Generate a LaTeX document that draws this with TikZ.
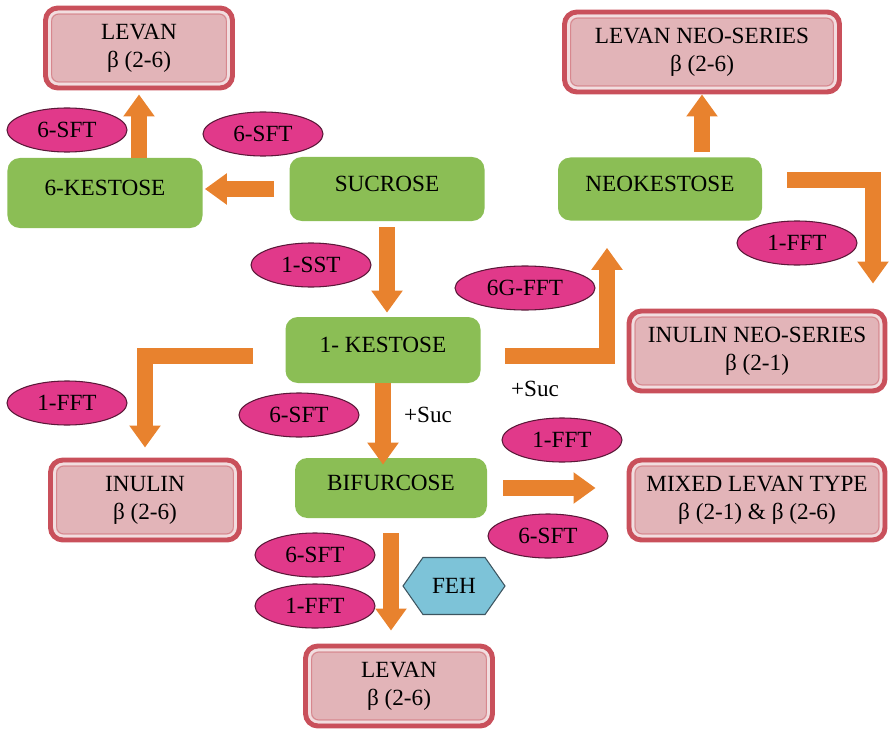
\documentclass[tikz,border=0pt]{standalone}
\usepackage{fontspec}
\setmainfont{Liberation Serif}
\usetikzlibrary{arrows.meta,positioning,shapes.geometric,shapes.symbols,calc}
\definecolor{Leaf}{HTML}{8BBE55}
\definecolor{Rose}{HTML}{E2B4B8}
\definecolor{Brick}{HTML}{C9505B}
\definecolor{Magenta}{HTML}{E1398A}
\definecolor{Plum}{HTML}{5A1838}
\definecolor{Sky}{HTML}{7DC3D8}
\definecolor{Slate}{HTML}{3D5560}
\definecolor{Tang}{HTML}{E8822E}
\tikzset{
 product/.style={draw=Brick,line width=2.8pt,fill=Rose,rounded corners=7pt,align=center,
   inner sep=3pt,minimum height=16mm,
   path picture={
     \draw[Rose!45!white,line width=1.6pt,rounded corners=5pt]
       ([shift={(2.2pt,-2.2pt)}]path picture bounding box.north west) rectangle
       ([shift={(-2.2pt,2.2pt)}]path picture bounding box.south east);
     \draw[Brick!45!Rose,line width=0.5pt,rounded corners=4pt]
       ([shift={(3.5pt,-3.5pt)}]path picture bounding box.north west) rectangle
       ([shift={(-3.5pt,3.5pt)}]path picture bounding box.south east);}},
 sugar/.style={fill=Leaf,rounded corners=7pt,align=center,inner sep=3pt,
   text height=9pt,text depth=6.5pt},
 enzyme/.style={ellipse,draw=Plum,line width=0.6pt,fill=Magenta,inner sep=0pt,
   minimum width=24mm,minimum height=8.8mm},
 cleave/.style={signal,signal to=east and west,signal pointer angle=110,draw=Slate,
   line width=0.6pt,fill=Sky,inner sep=0pt,minimum width=20.4mm,minimum height=11.4mm},
 flow/.style={-{Triangle[length=4.4mm 0 0,width=6mm 0 0]},line width=3.2mm,draw=Tang,line join=miter},
 note/.style={inner sep=0pt}
}
\begin{document}
\begin{tikzpicture}[x=0.2mm,y=-0.2mm,font=\fontsize{13.2}{15.8}\selectfont]
\useasboundingbox (0,0) rectangle (889,730);
\node[product,minimum width=37.4mm] (levanA) at (139,48) {LEVAN\\β (2-6)};
\node[product,minimum width=55mm] (levanneo) at (702,52) {LEVAN NEO-SERIES\\β (2-6)};
\node[product,minimum width=51.2mm] (inulinneo) at (757,351) {INULIN NEO-SERIES\\β (2-1)};
\node[product,minimum width=37.8mm] (inulin) at (145,500) {INULIN\\β (2-6)};
\node[product,minimum width=51.2mm] (mixed) at (757,500) {MIXED LEVAN TYPE\\β (2-1) \& β (2-6)};
\node[product,minimum width=37.4mm] (levanB) at (399,686) {LEVAN\\β (2-6)};
\node[sugar,minimum width=39mm,minimum height=14mm] (kest6) at (105,193) {6-KESTOSE};
\node[sugar,minimum width=39mm,minimum height=12.8mm] (sucrose) at (387,189) {SUCROSE};
\node[sugar,minimum width=40.8mm,minimum height=12.6mm] (neokest) at (660,189) {NEOKESTOSE};
\node[sugar,minimum width=39mm,minimum height=13.2mm] (kest1) at (383,350) {1- KESTOSE};
\node[sugar,minimum width=38.4mm,minimum height=12mm] (bifur) at (391,488) {BIFURCOSE};
\node[enzyme] (sftA) at (67,130) {6-SFT};
\node[enzyme] (sftB) at (263,134) {6-SFT};
\node[enzyme] (sst) at (311,265) {1-SST};
\node[enzyme,minimum width=28mm] (fftG) at (525,288) {6G-FFT};
\node[enzyme] (fftA) at (797,243) {1-FFT};
\node[enzyme] (fftB) at (67,403) {1-FFT};
\node[enzyme] (sftC) at (299,415) {6-SFT};
\node[enzyme] (fftC) at (562,440) {1-FFT};
\node[enzyme] (sftD) at (548,536) {6-SFT};
\node[enzyme] (sftE) at (315,555) {6-SFT};
\node[enzyme] (fftD) at (315,606) {1-FFT};
\node[cleave] (feh) at (454,586) {FEH};
\node[note] (sucA) at (428,415) {+Suc};
\node[note] (sucB) at (535,389) {+Suc};
\draw[flow,shorten >=0.8mm] (kest6.north -| levanA.south) -- (levanA.south);
\draw[flow,shorten <=3mm,shorten >=0.4mm] (sucrose.west) -- (sucrose.west -| kest6.east);
\draw[flow,shorten <=1.2mm,shorten >=0.8mm] (sucrose.south) -- (sucrose.south |- kest1.north);
\draw[flow,shorten >=-1.4mm] (kest1.south) -- (kest1.south |- bifur.north);
\draw[flow] ([xshift=-6.4mm,yshift=-1.2mm]kest1.west) -| ([yshift=2mm]inulin.north);
\draw[flow] ([xshift=4.8mm,yshift=-1.2mm]kest1.east) -| ([xshift=-10.6mm,yshift=-5.4mm]neokest.south);
\draw[flow,shorten <=1mm] (neokest.north -| levanneo.south) -- (levanneo.south);
\draw[flow] ([xshift=5mm,yshift=1.8mm]neokest.east) -| ([xshift=23.2mm,yshift=5mm]inulinneo.north);
\draw[flow,shorten <=3.2mm,shorten >=6.2mm] (bifur.east) -- (bifur.east -| mixed.west);
\draw[flow,shorten <=3mm,shorten >=2.6mm] (bifur.south) -- (bifur.south |- levanB.north);
\end{tikzpicture}
\end{document}
